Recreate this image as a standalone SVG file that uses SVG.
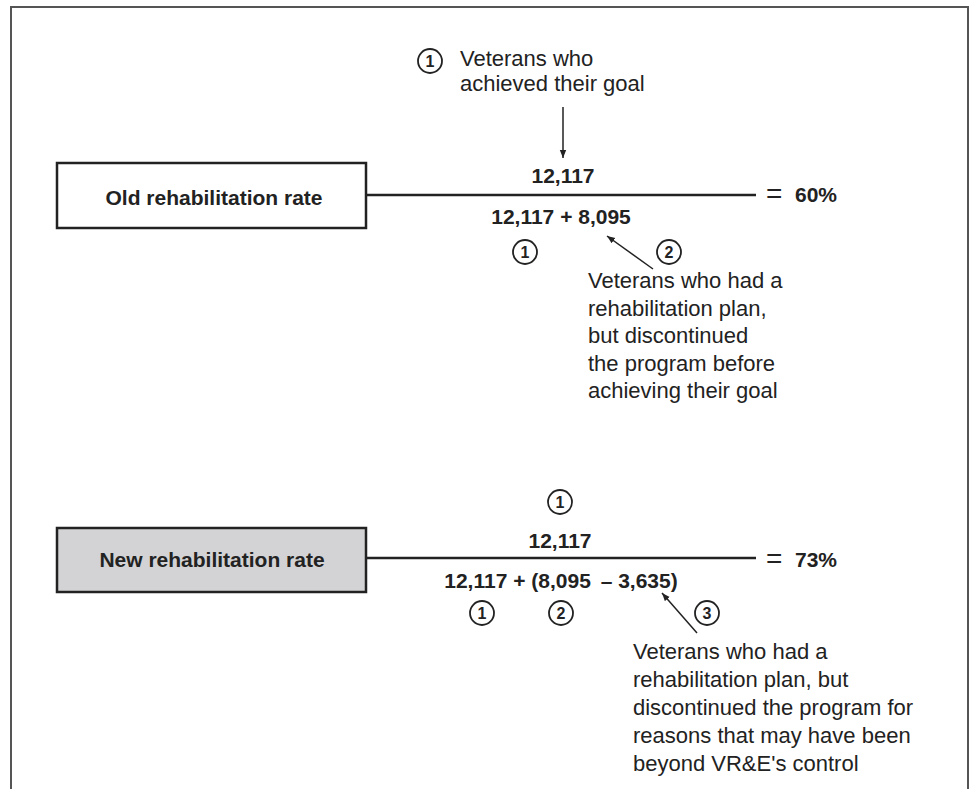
<svg xmlns="http://www.w3.org/2000/svg" width="972" height="789" viewBox="0 0 972 789">
<defs>
<marker id="ah" viewBox="0 0 10 10" refX="10" refY="5" markerWidth="8" markerHeight="8" markerUnits="userSpaceOnUse" orient="auto"><path d="M0,1 L10,5 L0,9 z" fill="#222"/></marker>
<style>
text{font-family:"Liberation Sans",Arial,sans-serif;fill:#222}
.b{font-weight:bold;font-size:21px}
.r{font-size:22px}
.n{font-weight:bold;font-size:16px;text-anchor:middle}
.eq{font-weight:normal;font-size:28px}
.c{fill:#fff;stroke:#222;stroke-width:1.8}
.box{stroke:#222;stroke-width:2.5}
.ln{stroke:#222;stroke-width:2.5;fill:none}
.ar{stroke:#222;stroke-width:1.5;fill:none;marker-end:url(#ah)}
</style>
</defs>
<rect width="972" height="789" fill="#fff"/>
<path d="M11,789 V7 H968 V789" fill="none" stroke="#555" stroke-width="2"/>

<g id="old-box">
<rect class="box" x="57" y="163" width="309" height="65" fill="#fff"/>
<text class="b" x="214" y="205" text-anchor="middle">Old rehabilitation rate</text>
</g>
<g id="old-fraction">
<text class="b" x="563" y="183" text-anchor="middle">12,117</text>
<text class="b" x="561" y="224" text-anchor="middle">12,117 + 8,095</text>
<text class="b" x="766" y="203"><tspan class="eq">=</tspan><tspan x="795" y="202">60%</tspan></text>
</g>
<g id="old-note1">
<circle class="c" cx="430" cy="61" r="12"/><text class="n" x="430" y="67">1</text>
<text class="r" x="460" y="66">Veterans who</text>
<text class="r" x="460" y="91">achieved their goal</text>
</g>
<g id="old-markers">
<circle class="c" cx="525" cy="252" r="12"/><text class="n" x="525" y="258">1</text>
<circle class="c" cx="669" cy="252" r="12"/><text class="n" x="669" y="258">2</text>
</g>
<g id="old-note2">
<text class="r" x="588" y="288">Veterans who had a</text>
<text class="r" x="588" y="315.5">rehabilitation plan,</text>
<text class="r" x="588" y="343">but discontinued</text>
<text class="r" x="588" y="370.5">the program before</text>
<text class="r" x="588" y="398">achieving their goal</text>
</g>

<g id="new-box">
<rect class="box" x="57" y="528" width="309" height="64" fill="#d3d3d5"/>
<text class="b" x="212" y="567" text-anchor="middle">New rehabilitation rate</text>
</g>
<g id="new-fraction">
<circle class="c" cx="560" cy="502" r="12"/><text class="n" x="560" y="508">1</text>
<text class="b" x="560" y="548" text-anchor="middle">12,117</text>
<text class="b" x="561" y="588" text-anchor="middle">12,117 + (8,095 <tspan dx="4">–</tspan> 3,635)</text>
<text class="b" x="766" y="568"><tspan class="eq">=</tspan><tspan x="795" y="567">73%</tspan></text>
</g>
<g id="new-markers">
<circle class="c" cx="482" cy="613" r="12"/><text class="n" x="482" y="619">1</text>
<circle class="c" cx="561" cy="613" r="12"/><text class="n" x="561" y="619">2</text>
<circle class="c" cx="707" cy="613" r="12"/><text class="n" x="707" y="619">3</text>
</g>
<g id="new-note3">
<text class="r" x="633" y="659">Veterans who had a</text>
<text class="r" x="633" y="687">rehabilitation plan, but</text>
<text class="r" x="633" y="715">discontinued the program for</text>
<text class="r" x="633" y="743">reasons that may have been</text>
<text class="r" x="633" y="771">beyond VR&amp;E's control</text>
</g>

<g id="connectors">
<line class="ln" x1="366" y1="195" x2="756" y2="195"/>
<line class="ln" x1="366" y1="558" x2="756" y2="558"/>
<line class="ar" x1="563" y1="107" x2="563" y2="158"/>
<line class="ar" x1="653" y1="269" x2="607" y2="236"/>
<line class="ar" x1="697" y1="633" x2="662" y2="593"/>
</g>
</svg>
